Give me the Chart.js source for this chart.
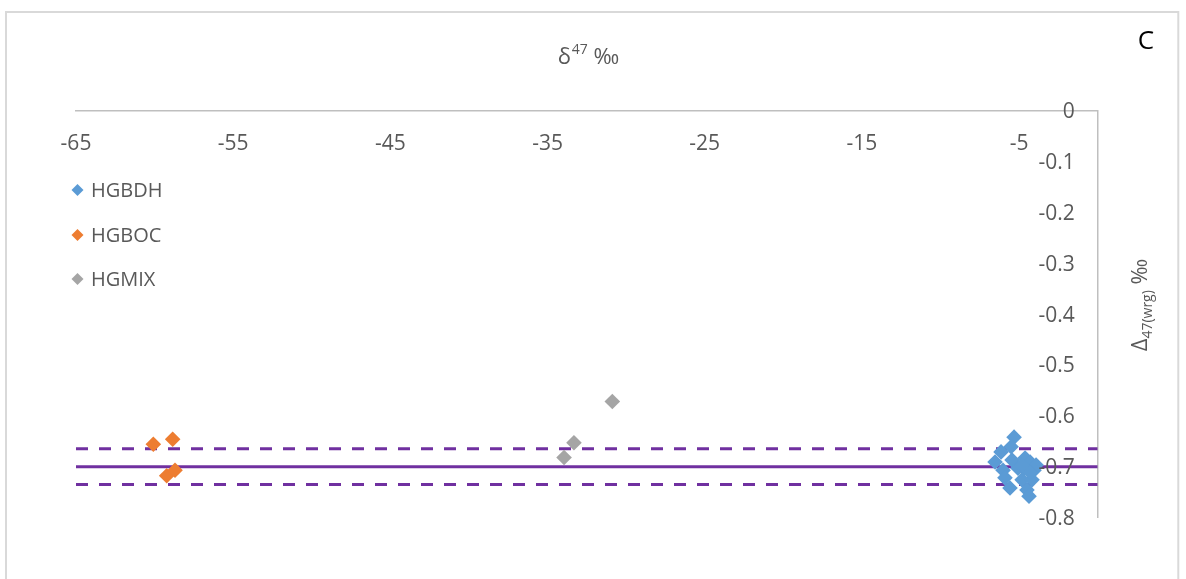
<!DOCTYPE html>
<html>
<head>
<meta charset="utf-8">
<script src="https://cdn.jsdelivr.net/npm/chart.js@4/dist/chart.umd.min.js"></script>
<style>
  html, body { margin: 0; padding: 0; background: #ffffff; }
  #wrap { width: 1186px; height: 579px; position: relative; }
</style>
</head>
<body>
<div id="wrap"><canvas id="c" width="1186" height="579"></canvas></div>
<script>
// δ47 (x) against Δ47(wrg) (y) for three sample groups
const seriesNames = ['HGBDH', 'HGBOC', 'HGMIX'];
const seriesColors = ['#5b9bd5', '#ed7d31', '#a5a5a5'];

const hgbdhX = [-6.53, -6.15, -6.02, -5.90, -5.32, -5.51, -5.45, -5.58, -5.07,
                -4.81, -4.62, -4.30, -4.05, -4.18, -4.50, -4.37, -4.69, -3.92,
                -4.30, -4.81];
const hgbdhY = [-0.691, -0.671, -0.707, -0.722, -0.642, -0.661, -0.687, -0.742, -0.703,
                -0.726, -0.683, -0.691, -0.707, -0.726, -0.746, -0.758, -0.703, -0.697,
                -0.711, -0.697];

const hgbocX = [-60.08, -58.85, -59.23, -58.70];
const hgbocY = [-0.656, -0.646, -0.718, -0.707];

const hgmixX = [-30.88, -33.32, -33.95];
const hgmixY = [-0.572, -0.653, -0.682];

// mean and its band
const meanLevel = -0.700;
const upperLevel = -0.665;
const lowerLevel = -0.735;

// axes
const xRange = [-65, 0];
const yRange = [-0.8, 0];
const xTickValues = [-65, -55, -45, -35, -25, -15, -5];
const yTickValues = [0, -0.1, -0.2, -0.3, -0.4, -0.5, -0.6, -0.7, -0.8];

const TEXT = '#595959';
const FONT = '"Open Sans", "Liberation Sans", sans-serif';
const PURPLE = '#7030a0';

function pts(xs, ys) { return xs.map((x, i) => ({ x: x, y: ys[i] })); }
function hline(v) { return [{ x: xRange[0], y: v }, { x: xRange[1], y: v }]; }

const scatterSets = [[hgbdhX, hgbdhY], [hgbocX, hgbocY], [hgmixX, hgmixY]].map((s, i) => ({
  type: 'scatter',
  label: seriesNames[i],
  data: pts(s[0], s[1]),
  pointStyle: 'rectRot',
  pointRadius: 7.8,
  pointHoverRadius: 7.8,
  backgroundColor: seriesColors[i],
  borderColor: seriesColors[i],
  borderWidth: 0,
  order: 0
}));

const lineSets = [
  { level: upperLevel, dash: [12, 11] },
  { level: meanLevel, dash: [] },
  { level: lowerLevel, dash: [12, 11] }
].map(l => ({
  type: 'line',
  label: '',
  data: hline(l.level),
  borderColor: PURPLE,
  borderWidth: 3,
  borderDash: l.dash,
  pointRadius: 0,
  fill: false,
  order: 5
}));

// frame, axis labels, titles and legend
const decorations = {
  id: 'decorations',
  beforeDraw(chart) {
    const ctx = chart.ctx;
    ctx.save();
    ctx.strokeStyle = '#d9d9d9';
    ctx.lineWidth = 2;
    ctx.strokeRect(6, 12, 1172.3, 620);
    ctx.restore();
  },
  afterDraw(chart) {
    const ctx = chart.ctx;
    const xs = chart.scales.x, ys = chart.scales.y;
    ctx.save();
    ctx.fillStyle = TEXT;
    ctx.font = '21px ' + FONT;
    ctx.textBaseline = 'alphabetic';

    ctx.textAlign = 'center';
    xTickValues.forEach(v => {
      ctx.fillText(String(v), xs.getPixelForValue(v), ys.top + 39.5);
    });

    ctx.textAlign = 'right';
    yTickValues.forEach(v => {
      const t = v === 0 ? '0' : v.toFixed(1);
      ctx.fillText(t, xs.right - 23, ys.getPixelForValue(v) + 7.5);
    });

    // x title: δ47 ‰
    const big = '22px ' + FONT, small = '14px ' + FONT;
    ctx.font = big; const w1 = ctx.measureText('δ').width;
    ctx.font = small; const w2 = ctx.measureText('47').width;
    ctx.font = big; const w3 = ctx.measureText(' ‰').width;
    let x0 = 588 - (w1 + w2 + w3) / 2;
    const by = 64;
    ctx.textAlign = 'left';
    ctx.font = big; ctx.fillText('δ', x0, by);
    ctx.font = small; ctx.fillText('47', x0 + w1 + 1, by - 10);
    ctx.font = big; ctx.fillText(' ‰', x0 + w1 + w2 + 1, by);

    // y title: Δ47(wrg) ‰, rotated
    ctx.font = big; const a1 = ctx.measureText('Δ').width;
    ctx.font = small; const a2 = ctx.measureText('47(wrg)').width;
    ctx.font = big; const a3 = ctx.measureText(' ‰').width;
    const total = a1 + a2 + a3;
    ctx.translate(1147, 305 + total / 2);
    ctx.rotate(-Math.PI / 2);
    ctx.font = big; ctx.fillText('Δ', 0, 0);
    ctx.font = small; ctx.fillText('47(wrg)', a1, 5);
    ctx.font = big; ctx.fillText(' ‰', a1 + a2, 0);
    ctx.setTransform(1, 0, 0, 1, 0, 0);

    // panel letter
    ctx.fillStyle = '#000000';
    ctx.font = '26px ' + FONT;
    ctx.textAlign = 'center';
    ctx.fillText('C', 1146, 49);

    // legend
    const rows = [190, 235, 279];
    ctx.font = '20px ' + FONT;
    ctx.textAlign = 'left';
    ctx.textBaseline = 'middle';
    seriesNames.forEach((n, i) => {
      const cy = rows[i];
      ctx.fillStyle = seriesColors[i];
      ctx.beginPath();
      ctx.moveTo(77.5, cy - 6); ctx.lineTo(83.5, cy); ctx.lineTo(77.5, cy + 6); ctx.lineTo(71.5, cy);
      ctx.closePath(); ctx.fill();
      ctx.fillStyle = TEXT;
      ctx.fillText(n, 91, cy + 1);
    });
    ctx.restore();
  }
};

new Chart(document.getElementById('c'), {
  data: { datasets: scatterSets.concat(lineSets) },
  options: {
    responsive: false,
    animation: false,
    events: [],
    layout: { padding: { left: 76, top: 110.7, right: 88.3, bottom: 61.5 } },
    plugins: { legend: { display: false }, tooltip: { enabled: false } },
    scales: {
      x: {
        type: 'linear', position: 'top',
        min: xRange[0], max: xRange[1],
        grid: { display: false, drawTicks: false },
        border: { display: true, color: '#bfbfbf', width: 1.5 },
        ticks: { display: false },
        afterFit(s) { s.height = 0; }
      },
      y: {
        type: 'linear', position: 'right',
        min: yRange[0], max: yRange[1],
        grid: { display: false, drawTicks: false },
        border: { display: true, color: '#bfbfbf', width: 1.5 },
        ticks: { display: false },
        afterFit(s) { s.width = 0; }
      }
    }
  },
  plugins: [decorations]
});
</script>
</body>
</html>
